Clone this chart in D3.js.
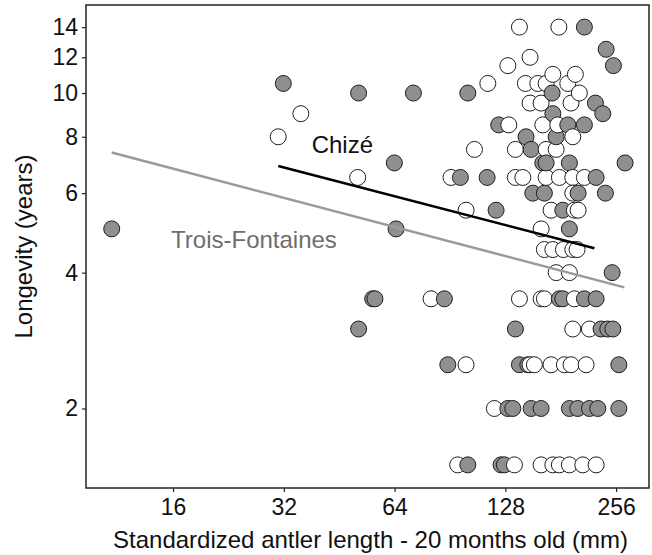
<!DOCTYPE html>
<html><head><meta charset="utf-8">
<script src="https://cdn.jsdelivr.net/npm/d3@7"></script>
<style>body{margin:0;background:#fff} text{font-family:"Liberation Sans",Arial,Helvetica,sans-serif}</style>
</head><body><svg id="c" width="652" height="555"></svg>
<script>
// ---- data ----
const xTicks = [16, 32, 64, 128, 256];
const yTicks = [2, 4, 6, 8, 10, 12, 14];

// Chizé (open circles): antler length (mm) and longevity (years)
const chizeAntler = [
  139.8, 178.9,
  149.4,
  130.0,
  172.3, 198.4,
  114.7, 145.1, 156.8, 165.2, 189.2,
  203.4,
  149.4, 160.1, 193.1,
  35.6,
  130.8, 161.8, 177.7,
  30.9, 195.2,
  105.5, 136.3, 165.2, 175.9,
  50.8, 91.1, 136.3, 142.8, 165.2, 179.5, 195.2, 209.9,
  195.2,
  100.1, 170.4, 197.2, 201.8,
  160.1,
  163.4, 172.3, 184.1, 195.2, 200.5,
  175.9, 191.1,
  80.4, 139.8, 160.1, 163.4, 197.2,
  195.2, 216.6,
  100.1, 149.4, 153.5, 170.4, 185.2, 193.1, 212.2,
  119.5,
  95.0, 135.5, 160.1, 172.3, 179.5, 191.1, 207.8, 225.9
];
const chizeLongevity = [
  14, 14,
  12,
  11.5,
  11, 11,
  10.5, 10.5, 10.5, 10.5, 10.5,
  10,
  9.5, 9.5, 9.5,
  9,
  8.5, 8.5, 8.5,
  8, 8,
  7.5, 7.5, 7.5, 7.5,
  6.5, 6.5, 6.5, 6.5, 6.5, 6.5, 6.5, 6.5,
  6,
  5.5, 5.5, 5.5, 5.5,
  5,
  4.5, 4.5, 4.5, 4.5, 4.5,
  4, 4,
  3.5, 3.5, 3.5, 3.5, 3.5,
  3, 3,
  2.5, 2.5, 2.5, 2.5, 2.5, 2.5, 2.5,
  2,
  1.5, 1.5, 1.5, 1.5, 1.5, 1.5, 1.5, 1.5
];

// Trois-Fontaines (grey circles)
const troisAntler = [
  209.9,
  240.5,
  251.7,
  31.9,
  51.1, 72.0, 101.2, 171.5,
  224.9,
  235.5, 172.3,
  122.8, 189.2, 209.9,
  145.7, 175.9,
  150.4,
  63.9, 161.8, 165.2, 191.1, 270.8,
  96.6, 114.2, 225.9,
  152.0, 163.4, 201.8, 239.4,
  120.8, 183.4,
  10.9, 64.6, 191.1,
  249.7,
  55.8, 56.6, 87.4, 179.5, 183.4, 209.9, 225.9,
  51.1, 136.3, 233.0, 243.0, 250.8,
  89.3, 139.8, 147.3, 260.4,
  130.0, 134.1, 150.4, 160.1, 191.1, 201.4, 216.6, 228.3, 260.4,
  101.2, 124.6, 127.2
];
const troisLongevity = [
  14,
  12.5,
  11.5,
  10.5,
  10, 10, 10, 10,
  9.5,
  9, 9,
  8.5, 8.5, 8.5,
  8, 8,
  7.5,
  7, 7, 7, 7, 7,
  6.5, 6.5, 6.5,
  6, 6, 6, 6,
  5.5, 5.5,
  5, 5, 5,
  4,
  3.5, 3.5, 3.5, 3.5, 3.5, 3.5, 3.5,
  3, 3, 3, 3, 3,
  2.5, 2.5, 2.5, 2.5,
  2, 2, 2, 2, 2, 2, 2, 2, 2,
  1.5, 1.5, 1.5
];

// fitted regression lines (endpoints, data units)
const chizeFitAntler = [30.9, 223.5];
const chizeFitLongevity = [6.89, 4.53];
const troisFitAntler = [10.9, 269.6];
const troisFitLongevity = [7.38, 3.71];

const siteLabels = ["Chizé", "Trois-Fontaines"];
const labelAntler = [38.1, 15.8];
const labelLongevity = [7.35, 4.53];

// ---- chart ----
const L = 86, R = 649, T = 5, B = 488;
const svg = d3.select("#c");

const x = d3.scaleLog().base(2).domain([9.28, 314.5]).range([L, R]);
const y = d3.scaleLog().domain([1.333, 15.67]).range([B, T]);

// axes
const ax = svg.append("g").attr("transform", `translate(0,${B})`)
  .call(d3.axisBottom(x).tickValues(xTicks).tickFormat(d3.format("d")).tickSize(4).tickPadding(7));
const ay = svg.append("g").attr("transform", `translate(${L},0)`)
  .call(d3.axisLeft(y).tickValues(yTicks).tickFormat(d3.format("d")).tickSize(4).tickPadding(4));
[ax, ay].forEach(g => {
  g.select(".domain").remove();
  g.selectAll("line").attr("stroke", "#222").attr("stroke-width", 1.2);
  g.selectAll("text").attr("font-size", 23).attr("fill", "#111")
    .attr("font-family", '"Liberation Sans",Arial,sans-serif');
});

// points, drawn in order of antler length
const pts = [];
chizeAntler.forEach((a, i) => pts.push({a, l: chizeLongevity[i], s: 0}));
troisAntler.forEach((a, i) => pts.push({a, l: troisLongevity[i], s: 1}));
pts.sort((p, q) => p.a - q.a);

svg.append("defs").append("clipPath").attr("id", "pc")
  .append("rect").attr("x", L).attr("y", T).attr("width", R - L).attr("height", B - T);

const gp = svg.append("g").attr("clip-path", "url(#pc)");
gp.selectAll("circle").data(pts).join("circle")
  .attr("cx", d => x(d.a)).attr("cy", d => y(d.l)).attr("r", 8)
  .attr("fill", d => d.s === 0 ? "#ffffff" : "#8f8f8f")
  .attr("stroke", "#1e1e1e").attr("stroke-width", 1);

// regression lines
const line = d3.line().x(d => x(d[0])).y(d => y(d[1]));
gp.append("path").datum(troisFitAntler.map((a, i) => [a, troisFitLongevity[i]]))
  .attr("d", line).attr("stroke", "#9a9a9a").attr("stroke-width", 2.5).attr("fill", "none");
gp.append("path").datum(chizeFitAntler.map((a, i) => [a, chizeFitLongevity[i]]))
  .attr("d", line).attr("stroke", "#000").attr("stroke-width", 2.5).attr("fill", "none");

// site labels
svg.selectAll("text.site").data(siteLabels).join("text").attr("class", "site")
  .attr("x", (d, i) => x(labelAntler[i])).attr("y", (d, i) => y(labelLongevity[i]))
  .attr("font-size", 24).attr("fill", (d, i) => i === 0 ? "#111" : "#6e6e6e").text(d => d);

// frame
svg.append("rect").attr("x", L).attr("y", T).attr("width", R - L).attr("height", B - T)
  .attr("fill", "none").attr("stroke", "#222").attr("stroke-width", 1.5);

// axis titles
svg.append("text").attr("x", (L + R) / 2 + 3).attr("y", 548).attr("text-anchor", "middle")
  .attr("font-size", 24).attr("fill", "#111").text("Standardized antler length - 20 months old (mm)");
svg.append("text").attr("transform", "rotate(-90)").attr("x", -(T + B) / 2).attr("y", 32)
  .attr("text-anchor", "middle").attr("font-size", 24).attr("fill", "#111").text("Longevity (years)");
</script></body></html>
